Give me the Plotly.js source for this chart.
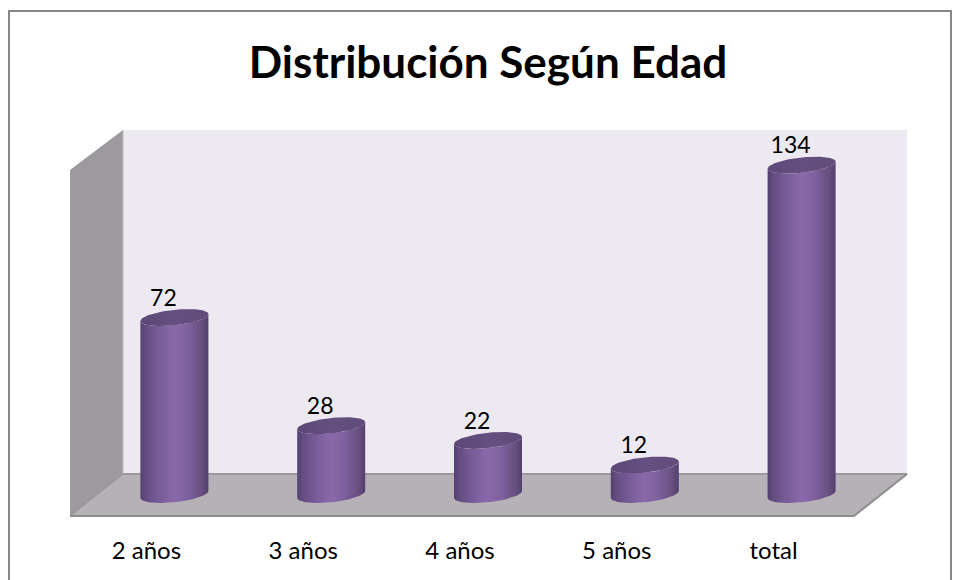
<!DOCTYPE html>
<html>
<head>
<meta charset="utf-8">
<script src="https://cdn.plot.ly/plotly-3.0.1.min.js"></script>
<style>
  html, body { margin: 0; padding: 0; background: #fff; overflow: hidden; }
  #chart { width: 961px; height: 580px; }
</style>
</head>
<body>
<div id="chart"></div>
<script>
const categories = ['2 años', '3 años', '4 años', '5 años', 'total'];
const values = [72, 28, 22, 12, 134];

// plot box in page pixels (front plane of the fake 3d box)
const plotLeft = 70, plotRight = 854, plotTop = 130, plotBottom = 516;
const depthX = 53, depthY = 42;
const pxPerCat = (plotRight - plotLeft) / categories.length;
const pxPerUnit = 2.458;
const zeroY = 494.5;

// cylinder look, in pixels
const radiusX = 34, tilt = 3.5, radiusY = 7.7, shift = 26;

const px = x => (x - plotLeft) / (plotRight - plotLeft);
const py = y => (plotBottom - y) / (plotBottom - plotTop);
const path = pts => 'M' + pts.map(p => px(p[0]) + ',' + py(p[1])).join(' L') + ' Z';

// point on the tilted ellipse, in axis units
function ring(i, v, t) {
  return [
    i + (shift + radiusX * Math.cos(t)) / pxPerCat,
    v + (tilt * Math.cos(t) + radiusY * Math.sin(t)) / pxPerUnit
  ];
}

const bodyScale = [[0, '#533f6f'], [0.08, '#644d81'], [0.3, '#7a5e9b'], [0.5, '#8a69ab'], [0.7, '#7d609e'], [0.9, '#67507f'], [1, '#523f6c']];
const capScale = [[0, '#5c4777'], [0.5, '#654f80'], [1, '#604b7a']];

function cylinder(i, v) {
  const n = 48, xs = [], ys = [], cx = [], cy = [];
  for (let k = 0; k <= n; k++) {
    const p = ring(i, v, Math.PI + Math.PI * k / n);
    xs.push(p[0]); ys.push(p[1]);
  }
  // the lower arc of the foot runs back from right to left
  for (let k = 0; k <= n; k++) {
    const p = ring(i, 0, 2 * Math.PI - Math.PI * k / n);
    p[1] = (tilt * Math.cos(2 * Math.PI - Math.PI * k / n) - radiusY * Math.abs(Math.sin(Math.PI * k / n))) / pxPerUnit;
    xs.push(p[0]); ys.push(p[1]);
  }
  for (let k = 0; k <= 2 * n; k++) {
    const p = ring(i, v, Math.PI * k / n);
    cx.push(p[0]); cy.push(p[1]);
  }
  const start = i + (shift - radiusX) / pxPerCat, stop = i + (shift + radiusX) / pxPerCat;
  return [
    { type: 'scatter', mode: 'lines', x: xs, y: ys, fill: 'toself', line: { width: 0 }, hoverinfo: 'skip',
      fillgradient: { type: 'horizontal', colorscale: bodyScale, start: start, stop: stop } },
    { type: 'scatter', mode: 'lines', x: cx, y: cy, fill: 'toself', line: { width: 0 }, hoverinfo: 'skip',
      fillgradient: { type: 'horizontal', colorscale: capScale, start: start, stop: stop } }
  ];
}

let traces = [];
values.forEach((v, i) => { traces = traces.concat(cylinder(i, v)); });

// data labels
traces.push({
  type: 'scatter', mode: 'text',
  x: values.map((v, i) => i + 15 / pxPerCat),
  y: values.map(v => v + 21 / pxPerUnit - 1.4),
  text: values.map(String),
  textposition: 'middle center',
  textfont: { family: 'Lato, Carlito, sans-serif', size: 23, color: '#000' },
  hoverinfo: 'skip'
});

const shapes = [
  // outer border
  { type: 'rect', xref: 'paper', yref: 'paper', x0: px(9), x1: px(951), y0: py(11), y1: py(590), line: { color: '#868686', width: 2 }, fillcolor: 'rgba(0,0,0,0)', layer: 'below' },
  // back wall
  { type: 'path', xref: 'paper', yref: 'paper', layer: 'below', fillcolor: '#ece9f1', line: { width: 0 },
    path: path([[plotLeft + depthX, plotTop], [plotRight + depthX, plotTop], [plotRight + depthX, plotBottom - depthY], [plotLeft + depthX, plotBottom - depthY]]) },
  // side wall
  { type: 'path', xref: 'paper', yref: 'paper', layer: 'below', fillcolor: '#9c9a9e', line: { width: 0 },
    path: path([[plotLeft, plotTop + depthY - 2], [plotLeft + depthX, plotTop], [plotLeft + depthX, plotBottom - depthY], [plotLeft, plotBottom]]) },
  // floor
  { type: 'path', xref: 'paper', yref: 'paper', layer: 'below', fillcolor: '#b5b1b6', line: { width: 0 },
    path: path([[plotLeft, plotBottom], [plotLeft + depthX, plotBottom - depthY], [plotRight + depthX, plotBottom - depthY], [plotRight, plotBottom]]) },
  // box edges
  { type: 'line', xref: 'paper', yref: 'paper', layer: 'below', x0: px(plotLeft + depthX), x1: px(plotRight + depthX), y0: py(plotBottom - depthY), y1: py(plotBottom - depthY), line: { color: '#9a989b', width: 2 } },
  { type: 'line', xref: 'paper', yref: 'paper', layer: 'below', x0: px(plotLeft + depthX), x1: px(plotLeft + depthX), y0: py(plotTop), y1: py(plotBottom - depthY), line: { color: '#bdbbbf', width: 1 } },
  { type: 'line', xref: 'paper', yref: 'paper', layer: 'below', x0: px(plotLeft), x1: px(plotRight), y0: py(plotBottom), y1: py(plotBottom), line: { color: '#8c8c8c', width: 2 } },
  { type: 'line', xref: 'paper', yref: 'paper', layer: 'below', x0: px(plotRight), x1: px(plotRight + depthX), y0: py(plotBottom), y1: py(plotBottom - depthY), line: { color: '#8c8c8c', width: 2 } },
  { type: 'line', xref: 'paper', yref: 'paper', layer: 'below', x0: px(plotLeft), x1: px(plotLeft + depthX), y0: py(plotBottom), y1: py(plotBottom - depthY), line: { color: '#8c8c8c', width: 1 } }
];

const layout = {
  width: 961,
  height: 580,
  showlegend: false,
  paper_bgcolor: '#fff',
  plot_bgcolor: 'rgba(0,0,0,0)',
  margin: { l: plotLeft, r: 961 - plotRight, t: plotTop, b: 580 - plotBottom, pad: 0 },
  title: {
    text: '<b>Distribución Según Edad</b>',
    font: { family: 'Lato, Carlito, sans-serif', size: 44, color: '#000' },
    x: 488 / 961, xanchor: 'center', y: 1 - 63 / 580, yanchor: 'middle'
  },
  xaxis: {
    range: [-0.5, categories.length - 0.5],
    tickmode: 'array',
    tickvals: categories.map((c, i) => i - 2 / pxPerCat),
    ticktext: categories,
    ticks: '',
    showgrid: false,
    zeroline: false,
    showline: false,
    ticklabelstandoff: 18,
    tickfont: { family: 'Lato, Carlito, sans-serif', size: 24, color: '#000' }
  },
  yaxis: {
    range: [(zeroY - plotBottom) / pxPerUnit, (zeroY - plotTop) / pxPerUnit],
    visible: false
  },
  shapes: shapes
};

Plotly.newPlot('chart', traces, layout, { displayModeBar: false, staticPlot: true });
</script>
</body>
</html>
